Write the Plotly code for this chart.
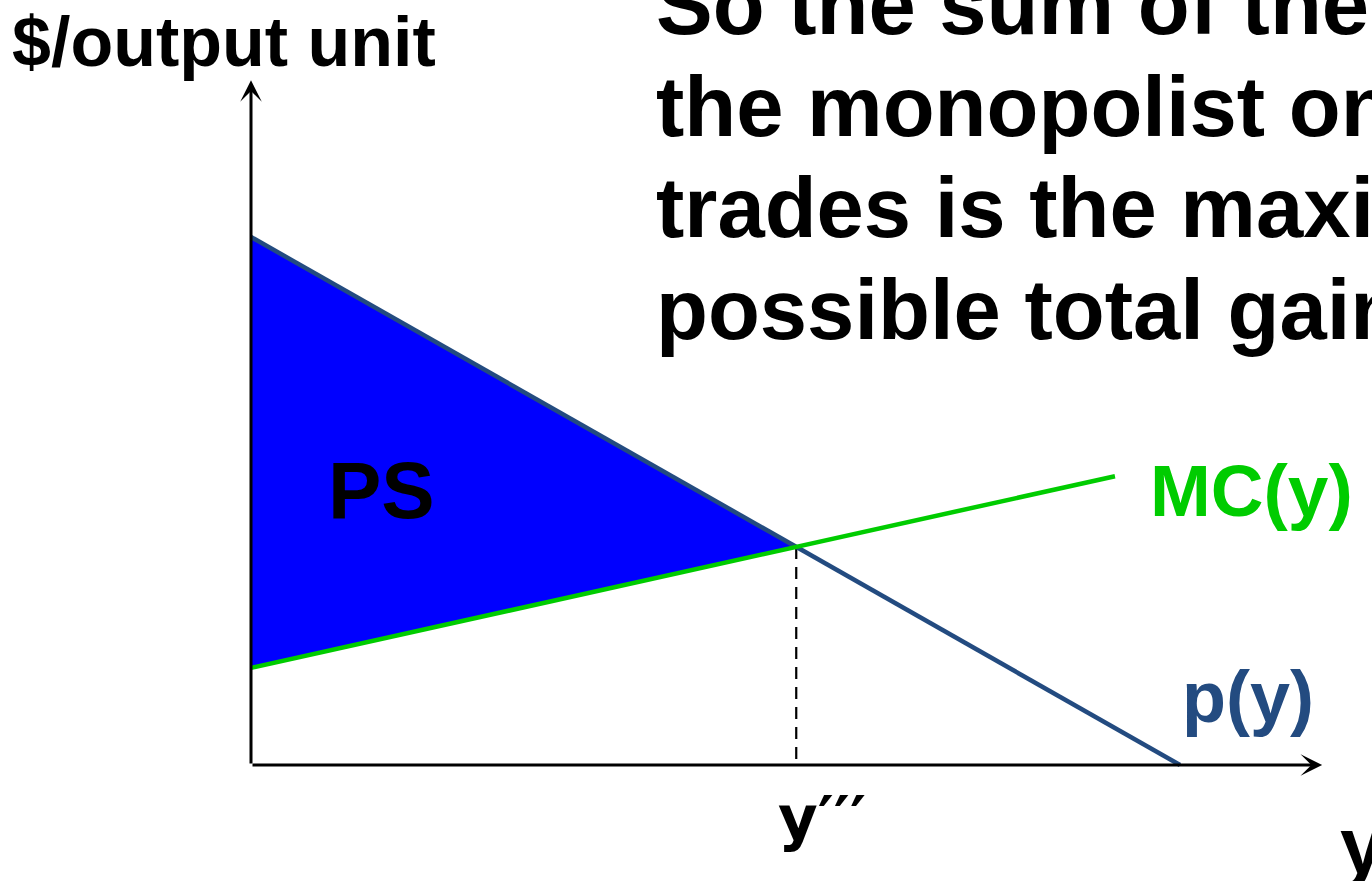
import plotly.graph_objects as go

# ---- data (economic units) ----
demand_q = [0, 100]          # p(y) endpoints: quantity
demand_p = [100, 0]          # p(y) endpoints: price
mc_q = [0, 93]               # MC(y) endpoints: quantity
mc_p = [18.4, 54.7]          # MC(y) endpoints: price
axis_x_max = 115.3
axis_y_max = 129.7

# intersection of the two straight lines
sd = (demand_p[1] - demand_p[0]) / (demand_q[1] - demand_q[0])
sm = (mc_p[1] - mc_p[0]) / (mc_q[1] - mc_q[0])
eq_q = (mc_p[0] - demand_p[0]) / (sd - sm)
eq_p = demand_p[0] + sd * eq_q

W, H = 1372, 881
FONT = "Liberation Sans, Arial, sans-serif"
DEM_COLOR = "#234b80"
MC_COLOR = "#00cc00"

fig = go.Figure()

# PS triangle
fig.add_trace(go.Scatter(
    x=[0, eq_q, 0, 0], y=[demand_p[0], eq_p, mc_p[0], demand_p[0]],
    mode="lines", fill="toself", fillcolor="#0000ff",
    line=dict(width=0, color="#0000ff"), hoverinfo="skip", showlegend=False))

# dashed drop line
fig.add_trace(go.Scatter(
    x=[eq_q, eq_q], y=[eq_p, 0], mode="lines",
    line=dict(color="black", width=2.2, dash="12px,8px"),
    hoverinfo="skip", showlegend=False))

# demand
fig.add_trace(go.Scatter(
    x=demand_q, y=demand_p, mode="lines",
    line=dict(color=DEM_COLOR, width=4.5), showlegend=False))

# MC
fig.add_trace(go.Scatter(
    x=mc_q, y=mc_p, mode="lines",
    line=dict(color=MC_COLOR, width=4.5), showlegend=False))

ann = []
# axis arrows
for tip in [(axis_x_max, 0), (0, axis_y_max)]:
    ann.append(dict(x=tip[0], y=tip[1], ax=0, ay=0, xref="x", yref="y", axref="x", ayref="y",
                    text="", showarrow=True, arrowhead=3, arrowsize=1.2, arrowwidth=3,
                    arrowcolor="black", standoff=0, startstandoff=0))


def txt(s, px, py, size, color="black", xanchor="left", family=FONT):
    ann.append(dict(text=f"<b>{s}</b>", x=px / W, y=1 - py / H, xref="paper", yref="paper",
                    xanchor=xanchor, yanchor="middle", showarrow=False,
                    font=dict(family=family, size=size, color=color)))


txt("$/output unit", 10, 42, 70)
big_lines = ["So the sum of the gains to", "the monopolist on all",
             "trades is the maximum", "possible total gains-to-trade."]
for i, line in enumerate(big_lines):
    txt(line, 654, 4.5 + 101.5 * i, 85)
txt("PS", 381, 491, 80, xanchor="center")
txt("MC(y)", 1148, 490, 73, color=MC_COLOR)
txt("p(y)", 1180, 697, 72, color=DEM_COLOR)
txt("y′′′", 776, 817, 61, family="DejaVu Sans, sans-serif")
txt("y", 1338, 845, 80)

fig.update_layout(
    width=W, height=H, margin=dict(l=0, r=0, t=0, b=0),
    paper_bgcolor="white", plot_bgcolor="white",
    xaxis=dict(range=[-251 / 9.29, (W - 251) / 9.29], visible=False, fixedrange=True),
    yaxis=dict(range=[-(H - 765) / 5.28, 765 / 5.28], visible=False, fixedrange=True),
    annotations=ann, showlegend=False,
)

fig.write_html("out.html", config={"displayModeBar": False},
               post_script="document.body.style.margin='0';document.body.style.overflow='hidden';")
